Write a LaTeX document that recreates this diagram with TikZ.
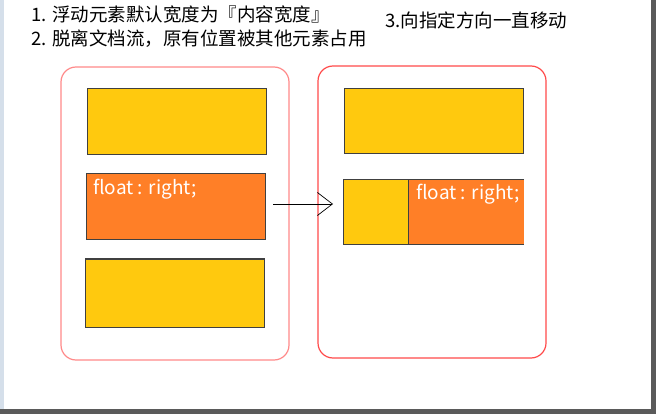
\documentclass[tikz,border=0pt]{standalone}
\usepackage{fontspec}
\setmainfont{Noto Sans CJK SC}
\newfontfamily\cjk{Noto Sans CJK SC}
\usetikzlibrary{arrows.meta}
\definecolor{boxyellow}{HTML}{FFC90E}
\definecolor{boxorange}{HTML}{FF7F27}
\definecolor{boxedge}{HTML}{404040}
\definecolor{contA}{HTML}{FF8A8A}
\definecolor{contB}{HTML}{FF4B4B}
\definecolor{framel}{HTML}{D5DFEA}
\definecolor{framed}{HTML}{5A5A5A}
\tikzset{
  fbox/.style={draw=boxedge, line width=1pt},
  cont/.style={line width=1.2pt, rounded corners=15pt},
  label/.style={anchor=west, inner sep=0pt, font=\fontsize{18.5}{18.5}\selectfont\cjk},
  flt/.style={anchor=west, inner sep=0pt, text=white, font=\fontsize{19}{19}\selectfont\cjk}
}
\begin{document}
\begin{tikzpicture}[x=1pt,y=-1pt]
\useasboundingbox (0,0) rectangle (656,414);
\fill[white] (0,0) rectangle (656,414);
\fill[framel] (0,0) rectangle (4,409);
\fill[framed] (651,0) rectangle (656,414);
\fill[framed] (0,409) rectangle (656,414);
% texts
\node[label] (t1) at (31,15) {1. 浮动元素默认宽度为『内容宽度』};
\node[label] (t2) at (31,39) {2. 脱离文档流，原有位置被其他元素占用};
\node[label] (t3) at (385,20) {3.向指定方向一直移动};
% containers
\draw[cont, draw=contA] (61,67) rectangle (289,360);
\draw[cont, draw=contB] (318,66) rectangle (546,358);
% left boxes
\draw[fbox, fill=boxyellow] (87,89) rectangle (266,155);
\draw[fbox, fill=boxorange] (86,174) rectangle (265,240);
\node[flt] (f1) at (93,189) {float : right;};
\draw[fbox, fill=boxyellow] (85,259) rectangle (264,327);
% right boxes
\draw[fbox, fill=boxyellow] (344,89) rectangle (523,154);
\draw[fbox, fill=boxyellow] (343,180) rectangle (408,245);
\fill[boxorange] (408,180) rectangle (524,245);
\draw[boxedge, line width=1pt] (524,180) -- (408,180) -- (408,245) -- (524,245);
\node[flt] (f2) at (416,194) {float : right;};
% arrow
\coordinate (a1) at (273,204);
\coordinate (a2) at (333,204);
\draw[line width=0.7pt, -{Straight Barb[length=15pt,width=23pt,line width=0.7pt]}] (a1) -- (a2);
\end{tikzpicture}
\end{document}
